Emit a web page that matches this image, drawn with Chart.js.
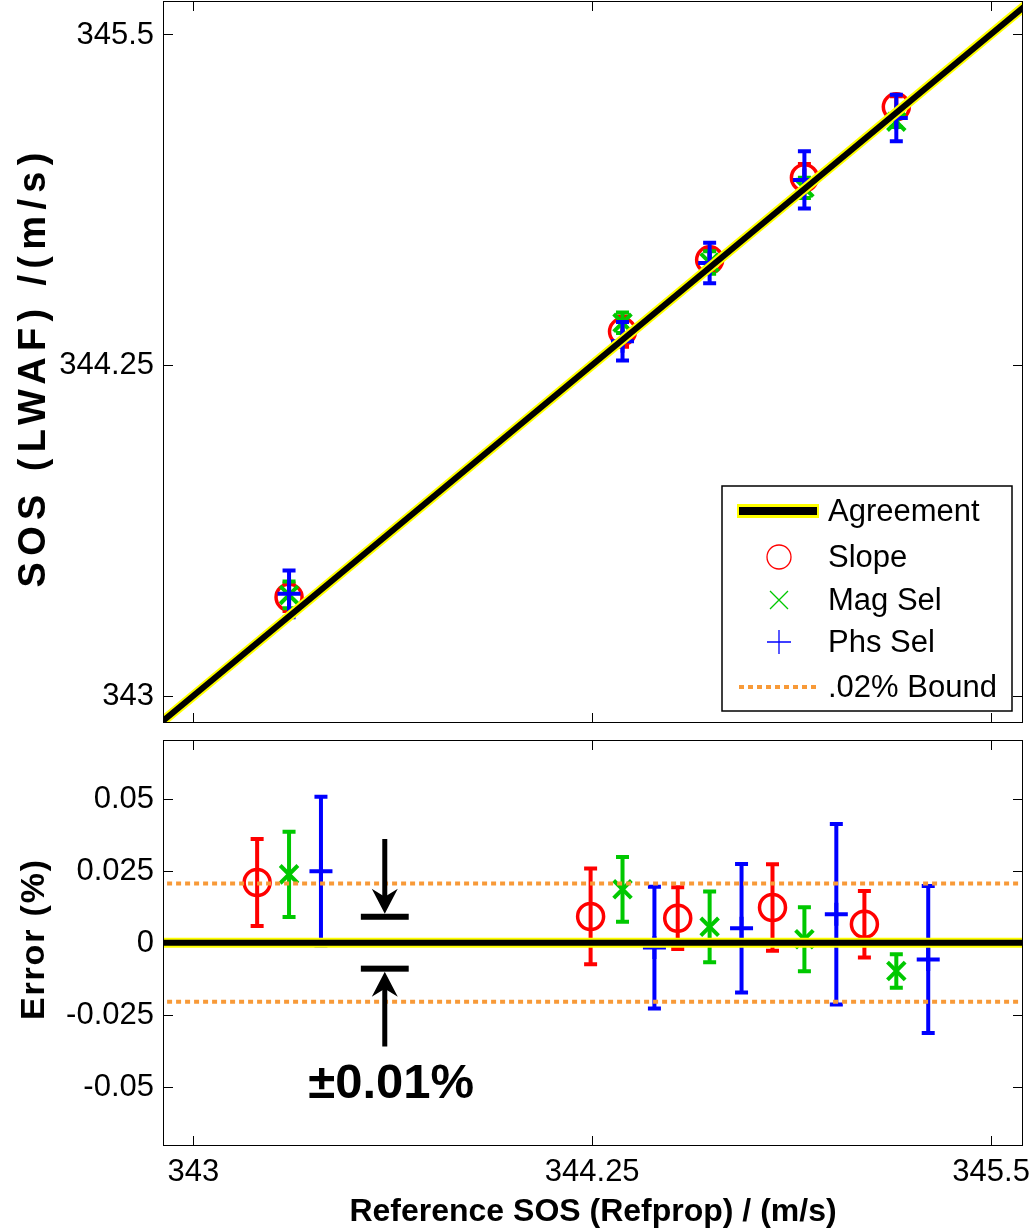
<!DOCTYPE html>
<html>
<head>
<meta charset="utf-8">
<script src="https://cdn.jsdelivr.net/npm/chart.js@4.4.0/dist/chart.umd.min.js"></script>
<style>
  html, body { margin: 0; padding: 0; background: #fff; }
  #wrap { position: relative; width: 1035px; height: 1232px; }
  #topChart { position: absolute; left: 0; top: 0; }
  #botChart { position: absolute; left: 0; top: 732px; }
</style>
</head>
<body>
<div id="wrap">
  <canvas id="topChart" width="1035" height="732"></canvas>
  <canvas id="botChart" width="1035" height="500"></canvas>
</div>
<script>
// reference speed of sound for each run (Refprop), m/s
var refSOS = [343.30, 344.345, 344.618, 344.915, 345.203];

// measured SOS from LWAF (top panel), m/s
var slopeSOS = [343.372, 344.376, 344.647, 344.957, 345.225];
var magSOS   = [343.381, 344.409, 344.637, 344.919, 345.169];
var phsSOS   = [343.385, 344.339, 344.635, 344.949, 345.183];
// half length of the error bars in the top panel, m/s
var slopeSOSBar = [0.0518, 0.0572, 0.0369, 0.0517, 0.0397];
var magSOSBar   = [0.0508, 0.0386, 0.0424, 0.0383, 0.0200];
var phsSOSBar   = [0.0886, 0.0727, 0.0769, 0.1080, 0.0880];

// error in percent (bottom panel)
var slopeErr = [0.0209, 0.0091, 0.0085, 0.0122, 0.0064];
var magErr   = [0.0237, 0.0185, 0.0055, 0.0012, -0.0098];
var phsErr   = [0.0248, -0.0017, 0.0050, 0.0099, -0.0058];
var slopeErrBar = [0.0151, 0.0166, 0.0107, 0.0150, 0.0115];
var magErrBar   = [0.0148, 0.0112, 0.0123, 0.0111, 0.0058];
var phsErrBar   = [0.0258, 0.0211, 0.0223, 0.0313, 0.0255];

var boundPct = 0.0205;
var dodge = 0.1; // slope / phs shifted left / right in the error plot

var xTicks = [343, 344.25, 345.5];
var xTickLabels = ['343', '344.25', '345.5'];
var sosTicks = [343, 344.25, 345.5];
var sosTickLabels = ['343', '344.25', '345.5'];
var errTicks = [-0.05, -0.025, 0, 0.025, 0.05];
var errTickLabels = ['-0.05', '-0.025', '0', '0.025', '0.05'];

var xRange = [342.905, 345.6];
var sosRange = [342.897, 345.625];
var errRange = [-0.0705, 0.0703];

var RED = '#FF0000', GREEN = '#00C800', BLUE = '#0000FF';
var ORANGE = '#F89A38', YELLOW = '#FFFF00';
var FONT = "'Liberation Sans', Arial, sans-serif";

Chart.defaults.font.family = FONT;
Chart.defaults.color = '#000';

function pts(xs, ys, dx) {
    return xs.map(function (x, i) { return { x: x + (dx || 0), y: ys[i] }; });
}

function fixedTicks(values) {
    return function (s) { s.ticks = values.map(function (v) { return { value: v }; }); };
}

// error bars, drawn just before the markers of the same dataset
var errorBars = {
    id: 'errorBars',
    beforeDatasetDraw: function (chart, args) {
        var ds = chart.data.datasets[args.index];
        if (!ds.errBar) return;
        var ctx = chart.ctx, xs = chart.scales.x, ys = chart.scales.y;
        var cap = 6.5;
        ctx.save();
        ctx.strokeStyle = ds.borderColor;
        ctx.lineWidth = 4;
        ds.data.forEach(function (p, i) {
            var px = xs.getPixelForValue(p.x);
            var y1 = ys.getPixelForValue(p.y + ds.errBar[i]);
            var y2 = ys.getPixelForValue(p.y - ds.errBar[i]);
            ctx.beginPath();
            ctx.moveTo(px, y1); ctx.lineTo(px, y2);
            ctx.moveTo(px - cap, y1); ctx.lineTo(px + cap, y1);
            ctx.moveTo(px - cap, y2); ctx.lineTo(px + cap, y2);
            ctx.stroke();
        });
        ctx.restore();
    }
};

// matlab style box with inward ticks, plus the tick labels
var boxTicks = {
    id: 'boxTicks',
    afterDraw: function (chart, args, opts) {
        var ctx = chart.ctx, a = chart.chartArea;
        var xs = chart.scales.x, ys = chart.scales.y;
        var len = 10;
        ctx.save();
        ctx.strokeStyle = '#000';
        ctx.lineWidth = 1;
        ctx.strokeRect(a.left + 0.5, a.top + 0.5, a.right - a.left - 1, a.bottom - a.top - 1);
        ctx.beginPath();
        xs.ticks.forEach(function (t) {
            var px = Math.round(xs.getPixelForValue(t.value)) + 0.5;
            ctx.moveTo(px, a.bottom); ctx.lineTo(px, a.bottom - len);
            ctx.moveTo(px, a.top); ctx.lineTo(px, a.top + len);
        });
        ys.ticks.forEach(function (t) {
            var py = Math.round(ys.getPixelForValue(t.value)) + 0.5;
            ctx.moveTo(a.left, py); ctx.lineTo(a.left + len, py);
            ctx.moveTo(a.right, py); ctx.lineTo(a.right - len, py);
        });
        ctx.stroke();

        ctx.fillStyle = '#000';
        ctx.font = '31px ' + FONT;
        ctx.textBaseline = 'middle';
        ctx.textAlign = 'right';
        ys.ticks.forEach(function (t, i) {
            ctx.fillText(opts.yLabels[i], a.left - 9, ys.getPixelForValue(t.value) + 1);
        });
        if (opts.xLabels) {
            ctx.textAlign = 'center';
            xs.ticks.forEach(function (t, i) {
                ctx.fillText(opts.xLabels[i], xs.getPixelForValue(t.value), a.bottom + 26);
            });
        }
        ctx.restore();
    }
};

// rotated y label
var yLabel = {
    id: 'yLabel',
    afterDraw: function (chart, args, opts) {
        var ctx = chart.ctx, a = chart.chartArea;
        ctx.save();
        ctx.font = 'bold ' + opts.size + 'px ' + FONT;
        var w = ctx.measureText(opts.text).width;
        var sp = Math.max(0, (opts.span - w) / (opts.text.length - 1));
        ctx.letterSpacing = sp + 'px';
        ctx.translate(35, (a.top + a.bottom) / 2 + opts.shift);
        ctx.rotate(-Math.PI / 2);
        ctx.textAlign = 'center';
        ctx.textBaseline = 'middle';
        ctx.fillStyle = '#000';
        ctx.fillText(opts.text, sp / 2, 0);
        ctx.restore();
    }
};

// legend of the top panel
var sosLegend = {
    id: 'sosLegend',
    afterDraw: function (chart) {
        var ctx = chart.ctx;
        var bx = 722, by = 486, bw = 290, bh = 225;
        var mx = 779, tx = 828;
        var rows = [511, 557, 600, 642, 687];
        ctx.save();
        ctx.fillStyle = '#fff';
        ctx.fillRect(bx, by, bw, bh);
        ctx.strokeStyle = '#000';
        ctx.lineWidth = 1.5;
        ctx.strokeRect(bx, by, bw, bh);

        // Agreement
        ctx.fillStyle = YELLOW;
        ctx.fillRect(737, rows[0] - 7, 82, 14);
        ctx.fillStyle = '#000';
        ctx.fillRect(739, rows[0] - 4, 78, 8);
        // Slope
        ctx.strokeStyle = RED; ctx.lineWidth = 1.3;
        ctx.beginPath(); ctx.arc(mx, rows[1], 12, 0, Math.PI * 2); ctx.stroke();
        // Mag Sel
        ctx.strokeStyle = GREEN;
        ctx.beginPath();
        ctx.moveTo(mx - 9, rows[2] - 9); ctx.lineTo(mx + 9, rows[2] + 9);
        ctx.moveTo(mx - 9, rows[2] + 9); ctx.lineTo(mx + 9, rows[2] - 9);
        ctx.stroke();
        // Phs Sel
        ctx.strokeStyle = BLUE;
        ctx.beginPath();
        ctx.moveTo(mx - 12, rows[3]); ctx.lineTo(mx + 12, rows[3]);
        ctx.moveTo(mx, rows[3] - 12); ctx.lineTo(mx, rows[3] + 12);
        ctx.stroke();
        // .02% Bound
        ctx.strokeStyle = ORANGE; ctx.lineWidth = 4;
        ctx.setLineDash([5, 4]);
        ctx.beginPath(); ctx.moveTo(739, rows[4]); ctx.lineTo(818, rows[4]); ctx.stroke();
        ctx.setLineDash([]);

        ctx.fillStyle = '#000';
        ctx.font = '31px ' + FONT;
        ctx.textBaseline = 'middle';
        ctx.textAlign = 'left';
        ['Agreement', 'Slope', 'Mag Sel', 'Phs Sel', '.02% Bound'].forEach(function (s, i) {
            ctx.fillText(s, tx, rows[i] + 1);
        });
        ctx.restore();
    }
};

// the +-0.01% arrows in the error panel
var arrowNote = {
    id: 'arrowNote',
    afterDraw: function (chart) {
        var ctx = chart.ctx, xs = chart.scales.x, ys = chart.scales.y;
        var ax = xs.getPixelForValue(343.6);
        var hw = xs.getPixelForValue(343.675) - ax;
        var yUp = ys.getPixelForValue(0.009), yDn = ys.getPixelForValue(-0.009);
        var yTop = ys.getPixelForValue(0.036), yBot = ys.getPixelForValue(-0.036);
        ctx.save();
        ctx.fillStyle = '#000';
        ctx.strokeStyle = '#000';
        // bars
        ctx.fillRect(ax - hw, yUp - 3, hw * 2, 6);
        ctx.fillRect(ax - hw, yDn - 3, hw * 2, 6);
        // shafts
        ctx.lineWidth = 5;
        ctx.beginPath();
        ctx.moveTo(ax, yTop); ctx.lineTo(ax, yUp - 12);
        ctx.moveTo(ax, yBot); ctx.lineTo(ax, yDn + 12);
        ctx.stroke();
        // heads
        function head(tipY, dir) {
            ctx.beginPath();
            ctx.moveTo(ax, tipY);
            ctx.lineTo(ax - 13, tipY - dir * 25);
            ctx.lineTo(ax, tipY - dir * 17);
            ctx.lineTo(ax + 13, tipY - dir * 25);
            ctx.closePath();
            ctx.fill();
        }
        head(yUp - 3, 1);
        head(yDn + 3, -1);
        ctx.font = 'bold 49px ' + FONT;
        ctx.textAlign = 'center';
        ctx.textBaseline = 'middle';
        ctx.fillText('\u00b10.01%', xs.getPixelForValue(343.62), ys.getPixelForValue(-0.0492));
        ctx.restore();
    }
};

function markerSets(sx, sy, sBar, mx, my, mBar, px, py, pBar) {
    return [
        { label: 'Slope', data: pts(sx, sy), errBar: sBar, pointStyle: 'circle', pointRadius: 13,
          borderColor: RED, backgroundColor: 'rgba(0,0,0,0)', pointBorderWidth: 3.5, order: 5 },
        { label: 'Mag Sel', data: pts(mx, my), errBar: mBar, pointStyle: 'crossRot', pointRadius: 12.5,
          borderColor: GREEN, backgroundColor: GREEN, pointBorderWidth: 4, order: 4 },
        { label: 'Phs Sel', data: pts(px, py), errBar: pBar, pointStyle: 'cross', pointRadius: 11.5,
          borderColor: BLUE, backgroundColor: BLUE, pointBorderWidth: 4, order: 3 }
    ];
}

function lineSet(data, color, width, order, dash) {
    return { data: data, showLine: true, pointRadius: 0, borderColor: color, borderWidth: width,
             borderDash: dash || [], order: order, fill: false };
}

// ---- top panel: SOS vs reference ----
var topSets = markerSets(refSOS, slopeSOS, slopeSOSBar, refSOS, magSOS, magSOSBar, refSOS, phsSOS, phsSOSBar);
var diag = [{ x: 342.8, y: 342.8 }, { x: 345.7, y: 345.7 }];
topSets.push(lineSet(diag, YELLOW, 10, 1));
topSets.push(lineSet(diag, '#000', 6, 0));

new Chart(document.getElementById('topChart'), {
    type: 'scatter',
    data: { datasets: topSets },
    options: {
        responsive: false,
        animation: false,
        layout: { autoPadding: false, padding: { left: 0, right: 12, top: 1, bottom: 9 } },
        plugins: {
            legend: { display: false }, tooltip: { enabled: false },
            boxTicks: { yLabels: sosTickLabels },
            yLabel: { text: 'SOS (LWAF) /(m/s)', size: 38, span: 435, shift: 8 }
        },
        scales: {
            x: { display: false, min: xRange[0], max: xRange[1], afterBuildTicks: fixedTicks(xTicks) },
            y: {
                min: sosRange[0], max: sosRange[1],
                grid: { display: false, drawTicks: false },
                border: { display: false },
                ticks: { display: false },
                afterBuildTicks: fixedTicks(sosTicks),
                afterFit: function (s) { s.width = 163; }
            }
        }
    },
    plugins: [errorBars, boxTicks, sosLegend, yLabel]
});

// ---- bottom panel: error in percent ----
var botSets = markerSets(refSOS, slopeErr, slopeErrBar, refSOS, magErr, magErrBar, refSOS, phsErr, phsErrBar);
botSets[0].data = pts(refSOS, slopeErr, -dodge);
botSets[2].data = pts(refSOS, phsErr, dodge);
var xEnds = [xRange[0] - 0.1, xRange[1] + 0.1];
botSets.push(lineSet(xEnds.map(function (x) { return { x: x, y: boundPct }; }), ORANGE, 4, 2, [5, 4]));
botSets.push(lineSet(xEnds.map(function (x) { return { x: x, y: -boundPct }; }), ORANGE, 4, 2, [5, 4]));
botSets.push(lineSet(xEnds.map(function (x) { return { x: x, y: 0 }; }), YELLOW, 10, 1));
botSets.push(lineSet(xEnds.map(function (x) { return { x: x, y: 0 }; }), '#000', 6, 0));

new Chart(document.getElementById('botChart'), {
    type: 'scatter',
    data: { datasets: botSets },
    options: {
        responsive: false,
        animation: false,
        layout: { autoPadding: false, padding: { left: 0, right: 12, top: 8, bottom: 0 } },
        plugins: {
            legend: { display: false }, tooltip: { enabled: false },
            boxTicks: { yLabels: errTickLabels, xLabels: xTickLabels },
            yLabel: { text: 'Error (%)', size: 34, span: 160, shift: -3 }
        },
        scales: {
            x: {
                min: xRange[0], max: xRange[1],
                grid: { display: false, drawTicks: false },
                border: { display: false },
                ticks: { display: false },
                afterBuildTicks: fixedTicks(xTicks),
                afterFit: function (s) { s.height = 86; },
                title: { display: true, text: 'Reference SOS (Refprop) / (m/s)',
                         font: { size: 32, weight: 'bold' }, padding: { top: 0, bottom: 1 } }
            },
            y: {
                min: errRange[0], max: errRange[1],
                grid: { display: false, drawTicks: false },
                border: { display: false },
                ticks: { display: false },
                afterBuildTicks: fixedTicks(errTicks),
                afterFit: function (s) { s.width = 163; }
            }
        }
    },
    plugins: [errorBars, boxTicks, arrowNote, yLabel]
});
</script>
</body>
</html>
